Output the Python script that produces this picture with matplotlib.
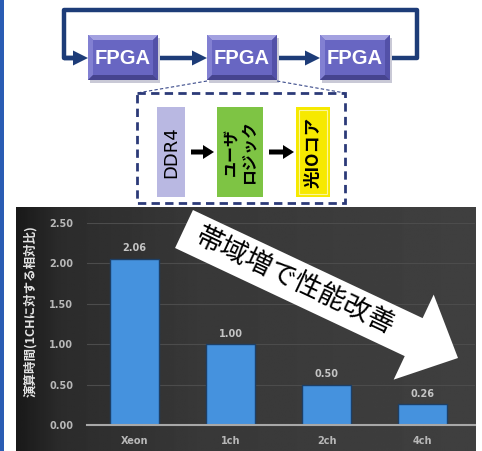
import numpy as np
import matplotlib
matplotlib.use('Agg')
import matplotlib.pyplot as plt
from matplotlib.patches import Rectangle, Polygon, FancyArrow

plt.rcParams['font.family'] = ['Noto Sans CJK JP', 'DejaVu Sans']

# データ
categories = ['Xeon', '1ch', '2ch', '4ch']
values = [2.06, 1.00, 0.50, 0.26]
yticks = [0.0, 0.5, 1.0, 1.5, 2.0, 2.5]
ylabel = '演算時間(1CHに対する相対比)'
arrow_text = '帯域増で性能改善'
fpga_label = 'FPGA'
block_labels = ['DDR4', 'ユーザ\nロジック', '光IOコア']

W, H = 482, 451
NAVY = '#1d3c78'

fig = plt.figure(figsize=(W / 100, H / 100), dpi=100)
fig.patch.set_facecolor('white')

# 背景とブロック図 (ピクセル座標, y は下向き)
bg = fig.add_axes([0, 0, 1, 1], zorder=0)
bg.axis('off')

# 左端の青い帯
bg.add_patch(Rectangle((0, 0), 4, H, color='#2a5cb4', lw=0))

# グラフ部分の暗い背景 (左が暗いグラデーション)
xs = np.linspace(16, 476, 240)
shade = np.interp(xs, [16, 60, 200, 476], [0.10, 0.17, 0.22, 0.25])
bg.imshow(np.tile(shade, (40, 1)), cmap='gray', vmin=0, vmax=1,
          extent=(16, 476, H, 207), aspect='auto', zorder=0)


def fpga_box(x0, y0, x1, y1, b=5):
    bg.add_patch(Rectangle((x0 + 2, y0 + 3), x1 - x0, y1 - y0, color='#c9c9d6', lw=0, zorder=1))
    bg.add_patch(Rectangle((x0, y0), x1 - x0, y1 - y0, color='#6866c2', lw=0, zorder=2))
    bevels = [
        ([(x0, y0), (x1, y0), (x1 - b, y0 + b), (x0 + b, y0 + b)], '#a3a1e0'),
        ([(x0, y0), (x0 + b, y0 + b), (x0 + b, y1 - b), (x0, y1)], '#8280d2'),
        ([(x1, y0), (x1, y1), (x1 - b, y1 - b), (x1 - b, y0 + b)], '#5351a8'),
        ([(x0, y1), (x1, y1), (x1 - b, y1 - b), (x0 + b, y1 - b)], '#46448f'),
    ]
    for pts, c in bevels:
        bg.add_patch(Polygon(pts, closed=True, color=c, lw=0, zorder=3))
    bg.text((x0 + x1) / 2, (y0 + y1) / 2 + 1, fpga_label, color='white',
            fontsize=14.5, fontweight='bold', family='Liberation Sans',
            ha='center', va='center', zorder=4)


# ループ線
bg.plot([390, 417, 417, 64, 64, 76], [58, 58, 10, 10, 58, 58], color=NAVY,
        lw=3.2, solid_joinstyle='round', solid_capstyle='butt', zorder=1)
for xa, xb in [(64, 88), (158, 207), (277, 320)]:
    bg.add_patch(FancyArrow(xa, 58, xb - xa, 0, width=4.5, head_width=15,
                            head_length=15, length_includes_head=True,
                            color=NAVY, lw=0, zorder=1))

for x0 in [88, 207, 320]:
    fpga_box(x0, 35, x0 + 70, 80)

# 拡大部分の点線
bg.plot([207, 137], [81, 93], color='#3a4a8a', lw=0.8, ls=(0, (3, 2)), zorder=1)
bg.plot([277, 345], [81, 93], color='#3a4a8a', lw=0.8, ls=(0, (3, 2)), zorder=1)
bg.add_patch(Rectangle((137, 93), 208, 110, fill=False, edgecolor='#2c3a78',
                       lw=2, ls=(0, (3, 1.9)), zorder=2))

# 内部ブロック
blocks = [(157, 185, '#b9b8e2', 13, 'DejaVu Sans', 'normal'),
          (217, 263, '#7ec444', 11.5, 'Noto Sans CJK JP', 'bold'),
          (296, 330, '#f6e900', 12.5, 'Noto Sans CJK JP', 'bold')]
for (x0, x1, c, fs, fam, fw), lab in zip(blocks, block_labels):
    bg.add_patch(Rectangle((x0, 107), x1 - x0, 90, color=c, lw=0, zorder=2))
    bg.text((x0 + x1) / 2, 152, lab, rotation=90, ha='center', va='center',
            fontsize=fs, family=[fam, 'DejaVu Sans'], fontweight=fw,
            color='black', linespacing=1.15, zorder=3)
bg.add_patch(Rectangle((299, 110), 28, 84, fill=False, edgecolor='#fbf59a', lw=0.8, zorder=3))
for xa, xb in [(191, 214), (269, 294)]:
    bg.add_patch(FancyArrow(xa, 152, xb - xa, 0, width=5, head_width=14,
                            head_length=11, length_includes_head=True,
                            color='black', lw=0, zorder=3))

bg.text(30, 311, ylabel, rotation=90, ha='center', va='center',
        color='#e4e4e4', fontsize=9, fontweight='bold')

bg.set_xlim(0, W)
bg.set_ylim(H, 0)

# 棒グラフ
ax = fig.add_axes([87 / W, (H - 425) / H, (475 - 87) / W, (425 - 223) / H], zorder=1)
ax.patch.set_alpha(0)
x = np.arange(len(categories))
ax.bar(x, values, width=0.505, color='#4592de', edgecolor='#1d3f66', linewidth=1, zorder=3)
for xi, v in zip(x, values):
    ax.annotate(f'{v:.2f}', (xi, v), xytext=(0, 7.5), textcoords='offset points',
                ha='center', va='center', fontsize=7, fontweight='bold',
                family='DejaVu Sans', color='#c4c4c4')

ax.set_xlim(-0.495, 3.547)
ax.set_ylim(0, 2.5)
ax.set_xticks(x)
ax.set_xticklabels(categories)
ax.set_yticks(yticks)
ax.set_yticklabels([f'{v:.2f}' for v in yticks])
ax.yaxis.grid(True, color='#4c4c4c', lw=0.8)
ax.set_axisbelow(True)
for s in ['top', 'right', 'left']:
    ax.spines[s].set_visible(False)
ax.spines['bottom'].set_color('#a8a8a8')
ax.spines['bottom'].set_linewidth(1.5)
ax.spines['bottom'].set_zorder(4)
ax.tick_params(length=0, colors='#b8b8b8', labelsize=7)
ax.tick_params(axis='y', pad=10)
ax.tick_params(axis='x', pad=8)
for lbl in ax.get_xticklabels() + ax.get_yticklabels():
    lbl.set_fontweight('bold')
    lbl.set_family('DejaVu Sans')

# 白い矢印と注釈
fg = fig.add_axes([0, 0, 1, 1], zorder=2)
fg.axis('off')
fg.add_patch(FancyArrow(184, 229, 274, 129, width=42, head_width=94,
                        head_length=49, length_includes_head=True,
                        fc='white', ec='none'))
ang = np.degrees(np.arctan2(129, 274))
fg.text(295, 282, arrow_text, rotation=-ang, rotation_mode='anchor',
        ha='center', va='center', fontsize=19.5, color='black')
fg.set_xlim(0, W)
fg.set_ylim(H, 0)

fig.savefig('out.png', dpi=100)
